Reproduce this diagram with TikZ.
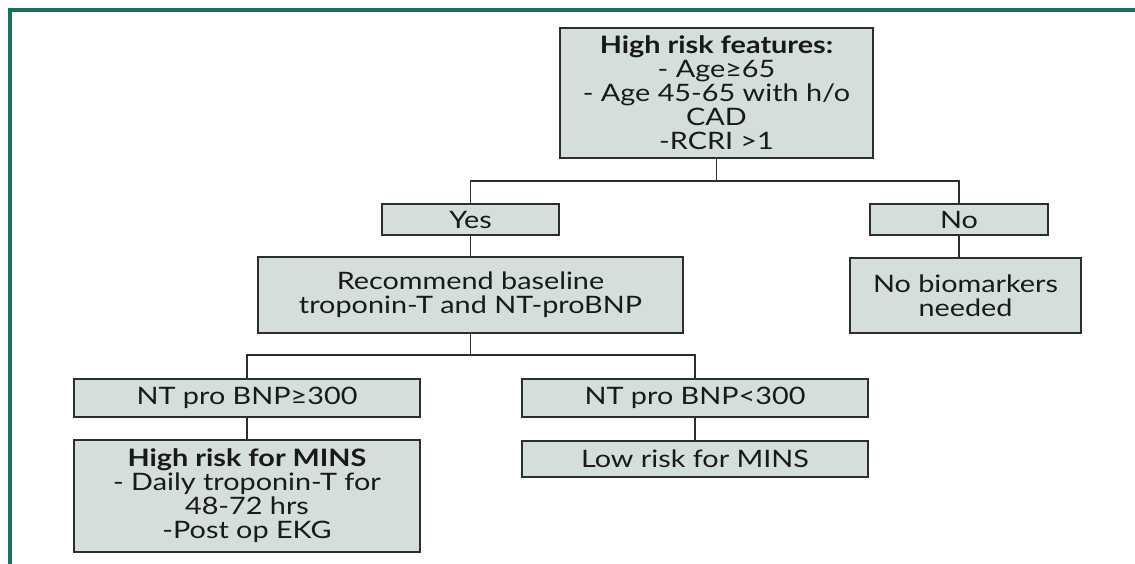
\documentclass[tikz,border=0pt]{standalone}
\usepackage{fontspec}
\setmainfont{Lato}[FakeStretch=1.2]
\usetikzlibrary{positioning}
\definecolor{boxfill}{RGB}{212,222,218}
\definecolor{boxline}{RGB}{45,45,45}
\definecolor{frameteal}{RGB}{24,112,96}

\begin{document}
\begin{tikzpicture}[x=1pt,y=-1pt,line width=1.8pt,draw=boxline]
	\tikzstyle{box}=[draw=boxline,fill=boxfill,inner sep=0pt,align=center,
		font=\fontsize{24}{24}\selectfont,text=black!90]

	\useasboundingbox (0,0) rectangle (1135,564);
	\draw[frameteal,line width=3.5pt] (1135,10) -- (10,10) -- (10,564);

	\node[box,minimum width=313pt,minimum height=130pt] (feat) at (716.5,93)
		{\textbf{High risk features:}\\- Age≥65\\- Age 45-65 with h/o\\CAD\\-RCRI >1};
	\node[box,minimum width=177pt,minimum height=31pt] (yes) at (470.5,219.5) {Yes};
	\node[box,minimum width=178pt,minimum height=31pt] (no) at (959,219.5) {No};
	\node[box,minimum width=425pt,minimum height=76pt] (rec) at (470.5,295)
		{Recommend baseline\\troponin-T and NT-proBNP};
	\node[box,minimum width=231pt,minimum height=75pt] (nobio) at (965.5,295.5)
		{No biomarkers\\needed};
	\node[box,minimum width=346pt,minimum height=38pt] (hi) at (247,398) {NT pro BNP≥300};
	\node[box,minimum width=346pt,minimum height=38pt] (lo) at (695,398) {NT pro BNP<300};
	\node[box,minimum width=346pt,minimum height=112pt] (hirisk) at (247,496)
		{\textbf{High risk for MINS}\\- Daily troponin-T for\\48-72 hrs\\-Post op EKG};
	\node[box,minimum width=346pt,minimum height=36pt] (lorisk) at (695,459) {Low risk for MINS};

	\coordinate (split1) at (716.5,181);
	\coordinate (split2) at (470.5,355);

	\draw (feat.south) -- (split1);
	\draw (yes.north) |- (split1) -| (no.north);
	\draw (yes.south) -- (rec.north);
	\draw (no.south) -- (no.south |- nobio.north);
	\draw (rec.south) -- (split2);
	\draw (hi.north) |- (split2) -| (lo.north);
	\draw (hi.south) -- (hirisk.north);
	\draw (lo.south) -- (lorisk.north);
\end{tikzpicture}
\end{document}
